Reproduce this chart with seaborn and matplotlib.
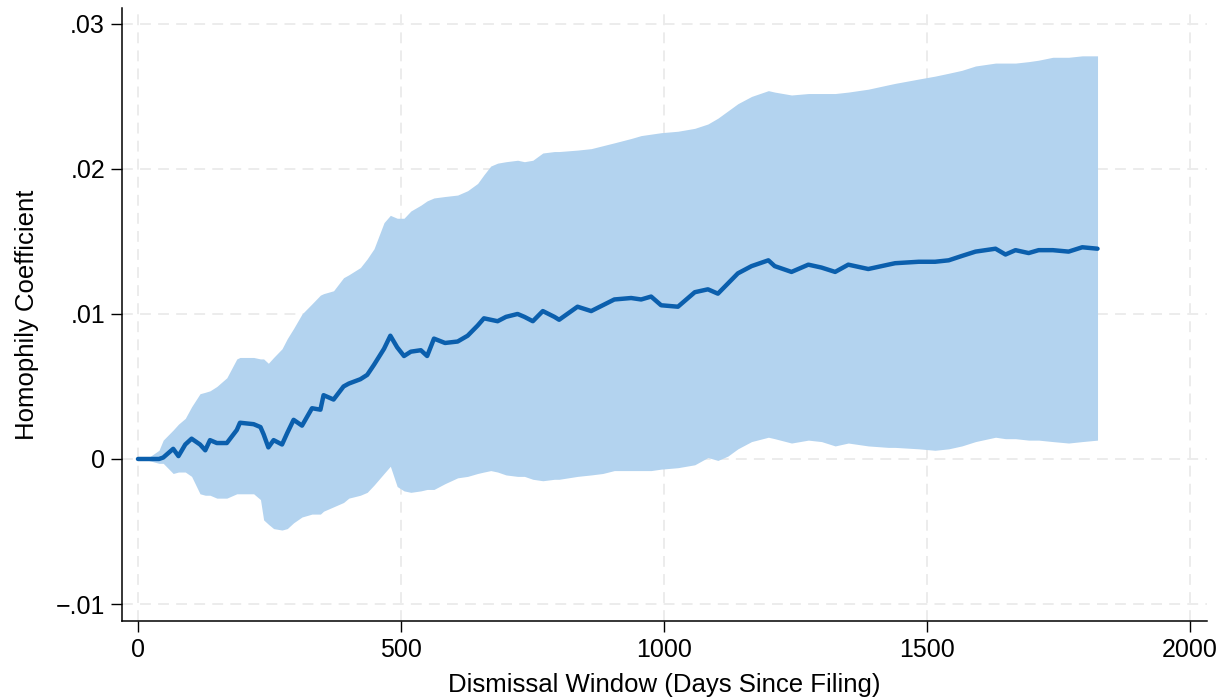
import numpy as np
import pandas as pd
import matplotlib
matplotlib.use("Agg")
import matplotlib.pyplot as plt
import seaborn as sns

# Dismissal window (days since filing)
days = [0, 20, 40, 48, 67, 77, 90, 102, 118, 128, 137, 150, 169, 188, 194, 220,
        233, 239, 248, 258, 274, 284, 296, 312, 331, 347, 353, 372, 391, 401,
        423, 436, 449, 468, 480, 493, 506, 519, 538, 550, 563, 584, 608, 627,
        646, 658, 671, 684, 700, 722, 735, 751, 770, 792, 801, 836, 862, 884,
        906, 938, 957, 976, 995, 1027, 1059, 1084, 1103, 1122, 1141, 1167,
        1199, 1211, 1243, 1275, 1300, 1326, 1351, 1389, 1427, 1440, 1485,
        1516, 1542, 1567, 1593, 1631, 1650, 1669, 1694, 1713, 1740, 1770,
        1796, 1825]

# Homophily coefficient point estimates
coef = [0.0, 0.0, 0.0, 0.0001, 0.0007, 0.0002, 0.0010, 0.0014, 0.0010, 0.0006,
        0.0013, 0.0011, 0.0011, 0.0020, 0.0025, 0.0024, 0.0022, 0.0017, 0.0008,
        0.0013, 0.0010, 0.0018, 0.0027, 0.0023, 0.0035, 0.0034, 0.0044, 0.0041,
        0.0050, 0.0052, 0.0055, 0.0058, 0.0065, 0.0076, 0.0085, 0.0077, 0.0071,
        0.0074, 0.0075, 0.0071, 0.0083, 0.0080, 0.0081, 0.0085, 0.0092, 0.0097,
        0.0096, 0.0095, 0.0098, 0.0100, 0.0098, 0.0095, 0.0102, 0.0098, 0.0096,
        0.0105, 0.0102, 0.0106, 0.0110, 0.0111, 0.0110, 0.0112, 0.0106, 0.0105,
        0.0115, 0.0117, 0.0114, 0.0121, 0.0128, 0.0133, 0.0137, 0.0133, 0.0129,
        0.0134, 0.0132, 0.0129, 0.0134, 0.0131, 0.0134, 0.0135, 0.0136, 0.0136,
        0.0137, 0.0140, 0.0143, 0.0145, 0.0141, 0.0144, 0.0142, 0.0144, 0.0144,
        0.0143, 0.0146, 0.0145]

# Upper confidence bound
ci_upper = [0.0, 0.0001, 0.0006, 0.0013, 0.0020, 0.0024, 0.0028, 0.0036, 0.0045,
            0.0046, 0.0047, 0.0050, 0.0056, 0.0069, 0.0070, 0.0070, 0.0069,
            0.0069, 0.0066, 0.0070, 0.0076, 0.0083, 0.0090, 0.0100, 0.0107,
            0.0113, 0.0114, 0.0116, 0.0125, 0.0127, 0.0132, 0.0138, 0.0145,
            0.0163, 0.0168, 0.0166, 0.0166, 0.0171, 0.0175, 0.0178, 0.0180,
            0.0181, 0.0182, 0.0185, 0.0190, 0.0196, 0.0202, 0.0204, 0.0205,
            0.0206, 0.0205, 0.0206, 0.0211, 0.0212, 0.0212, 0.0213, 0.0214,
            0.0216, 0.0218, 0.0221, 0.0223, 0.0224, 0.0225, 0.0226, 0.0228,
            0.0231, 0.0235, 0.0240, 0.0245, 0.0250, 0.0254, 0.0253, 0.0251,
            0.0252, 0.0252, 0.0252, 0.0253, 0.0255, 0.0258, 0.0259, 0.0262,
            0.0264, 0.0266, 0.0268, 0.0271, 0.0273, 0.0273, 0.0273, 0.0274,
            0.0275, 0.0277, 0.0277, 0.0278, 0.0278]

# Lower confidence bound
ci_lower = [0.0, -0.0001, -0.0003, -0.0003, -0.0010, -0.0009, -0.0009, -0.0012,
            -0.0024, -0.0025, -0.0025, -0.0027, -0.0027, -0.0024, -0.0024,
            -0.0024, -0.0028, -0.0042, -0.0045, -0.0048, -0.0049, -0.0048,
            -0.0044, -0.0040, -0.0038, -0.0038, -0.0036, -0.0033, -0.0030,
            -0.0027, -0.0025, -0.0023, -0.0018, -0.0010, -0.0005, -0.0019,
            -0.0022, -0.0023, -0.0022, -0.0021, -0.0021, -0.0017, -0.0013,
            -0.0012, -0.0010, -0.0009, -0.0008, -0.0009, -0.0011, -0.0012,
            -0.0012, -0.0014, -0.0015, -0.0014, -0.0014, -0.0012, -0.0011,
            -0.0010, -0.0008, -0.0008, -0.0008, -0.0008, -0.0007, -0.0006,
            -0.0004, 0.0001, -0.0001, 0.0002, 0.0007, 0.0012, 0.0015, 0.0014,
            0.0011, 0.0013, 0.0012, 0.0009, 0.0011, 0.0009, 0.0008, 0.0008,
            0.0007, 0.0006, 0.0007, 0.0009, 0.0012, 0.0015, 0.0014, 0.0014,
            0.0013, 0.0013, 0.0012, 0.0011, 0.0012, 0.0013]

x_ticks = [0, 500, 1000, 1500, 2000]
x_tick_labels = ["0", "500", "1000", "1500", "2000"]
y_ticks = [-0.01, 0.0, 0.01, 0.02, 0.03]
y_tick_labels = ["\u2212.01", "0", ".01", ".02", ".03"]

df = pd.DataFrame({"days": days, "coef": coef,
                   "lo": ci_lower, "hi": ci_upper})

sns.set_style("white")
plt.rcParams["font.family"] = ["Liberation Sans", "DejaVu Sans"]
plt.rcParams["text.color"] = "black"
plt.rcParams["axes.labelcolor"] = "black"
plt.rcParams["xtick.color"] = "black"
plt.rcParams["ytick.color"] = "black"

fig = plt.figure(figsize=(12.29, 7.0), dpi=100)
ax = fig.add_axes([0.099, 0.1129, 0.883, 0.8757])

band_color = "#b3d3ef"
line_color = "#0b5fad"
grid_color = "#ebebeb"

ax.fill_between(df["days"], df["lo"], df["hi"], color=band_color,
                linewidth=0, zorder=2)
sns.lineplot(data=df, x="days", y="coef", ax=ax, color=line_color,
             linewidth=3.2, zorder=3, solid_capstyle="round",
             solid_joinstyle="round")

ax.set_xlim(-31, 2033)
ax.set_ylim(-0.01117, 0.0311)

ax.set_xticks(x_ticks)
ax.set_xticklabels(x_tick_labels)
ax.set_yticks(y_ticks)
ax.set_yticklabels(y_tick_labels)
ax.tick_params(axis="both", which="major", direction="out", length=8,
               width=1.0, colors="black", labelsize=18, pad=4,
               left=True, bottom=True)

ax.grid(True, which="major", color=grid_color, linestyle=(0, (6, 4)),
        linewidth=1.3, zorder=0)
ax.set_axisbelow(True)

for side in ("top", "right"):
    ax.spines[side].set_visible(False)
for side in ("left", "bottom"):
    ax.spines[side].set_color("black")
    ax.spines[side].set_linewidth(1.1)

ax.set_xlabel("Dismissal Window (Days Since Filing)", fontsize=18.5,
              labelpad=8, color="black")
ax.set_ylabel("Homophily Coefficient", fontsize=18.5, labelpad=12,
              color="black")

fig.savefig("out.png", dpi=100, facecolor="white")
